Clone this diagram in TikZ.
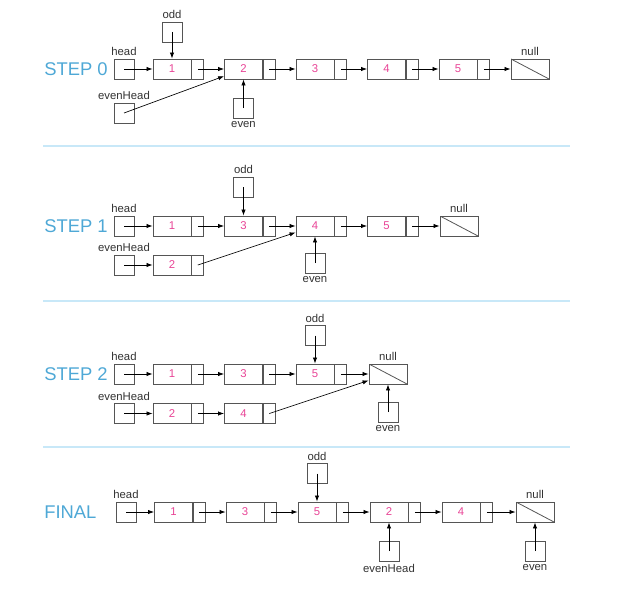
\documentclass[tikz,border=0pt]{standalone}
\usepackage{fontspec}
\setmainfont{Liberation Sans}
\usetikzlibrary{positioning,arrows.meta}
\definecolor{boxgray}{RGB}{85,85,85}
\definecolor{numpink}{RGB}{232,68,150}
\definecolor{stepblue}{RGB}{78,168,214}
\definecolor{sepblue}{RGB}{200,232,248}
\definecolor{lblgray}{RGB}{50,50,50}

% one list cell: value part plus next part
\newcommand{\listcell}[3]{%
  \node[cellbox] (#1) at (#2) {#3};
  \node[nextbox, right=0pt of #1] (#1p) {};}

\begin{document}
\begin{tikzpicture}[x=0.75pt, y=-0.75pt, font=\fontsize{8.5}{10}\selectfont,
  cellbox/.style={draw=boxgray, line width=0.6pt, minimum width=28.5pt, minimum height=15pt, inner sep=0pt, text=numpink},
  nextbox/.style={draw=boxgray, line width=0.6pt, minimum width=9pt, minimum height=15pt, inner sep=0pt},
  ptrbox/.style={draw=boxgray, line width=0.6pt, minimum size=15pt, inner sep=0pt},
  nullbox/.style={draw=boxgray, line width=0.6pt, minimum width=28.5pt, minimum height=15pt, inner sep=0pt,
    path picture={\draw[boxgray, line width=0.6pt] (path picture bounding box.north west) -- (path picture bounding box.south east);}},
  ptrname/.style={text=lblgray, inner sep=2pt},
  link/.style={-{Latex[length=4.5pt, width=3.2pt]}, line width=0.5pt},
  steplabel/.style={text=stepblue, font=\fontsize{13.8}{16}\selectfont, anchor=west, inner sep=0pt},
  sepline/.style={draw=sepblue, line width=1.5pt}]
\useasboundingbox (0,0) rectangle (624,592);

% STEP 0
\node[steplabel] (t0) at (44,69) {STEP 0};
\node[ptrbox, label={[ptrname]above:head}] (h0) at (124,69) {};
\node[ptrbox, label={[ptrname]above:evenHead}] (eh0) at (124,113) {};
\listcell{a1}{172,69}{1}
\listcell{a2}{243.5,69}{2}
\listcell{a3}{315,69}{3}
\listcell{a4}{386.5,69}{4}
\listcell{a5}{458,69}{5}
\node[nullbox, label={[ptrname]above:null}] (a0) at (530,69) {};
\node[ptrbox, label={[ptrname]above:odd}] (o0) at (172,32) {};
\node[ptrbox, label={[ptrname]below:even}] (e0) at (243.5,108) {};
\draw[link] (h0.center) -- (a1);
\draw[link] (a1p.center) -- (a2);
\draw[link] (a2p.center) -- (a3);
\draw[link] (a3p.center) -- (a4);
\draw[link] (a4p.center) -- (a5);
\draw[link] (a5p.center) -- (a0);
\draw[link] (eh0.center) -- (a2);
\draw[link] (o0.center) -- (a1);
\draw[link] (e0.center) -- (a2);

\draw[sepline] (43,146) -- (570,146);

% STEP 1
\node[steplabel] (t1) at (44,226) {STEP 1};
\node[ptrbox, label={[ptrname]above:head}] (h1) at (124,226) {};
\node[ptrbox, label={[ptrname]above:evenHead}] (eh1) at (124,265) {};
\listcell{b1}{172,226}{1}
\listcell{b3}{243.5,226}{3}
\listcell{b4}{315,226}{4}
\listcell{b5}{386.5,226}{5}
\node[nullbox, label={[ptrname]above:null}] (b0) at (459,226) {};
\listcell{b2}{172,265}{2}
\node[ptrbox, label={[ptrname]above:odd}] (o1) at (243.5,187) {};
\node[ptrbox, label={[ptrname]below:even}] (e1) at (315,263) {};
\draw[link] (h1.center) -- (b1);
\draw[link] (b1p.center) -- (b3);
\draw[link] (b3p.center) -- (b4);
\draw[link] (b4p.center) -- (b5);
\draw[link] (b5p.center) -- (b0);
\draw[link] (eh1.center) -- (b2);
\draw[link] (b2p.center) -- (b4);
\draw[link] (o1.center) -- (b3);
\draw[link] (e1.center) -- (b4);

\draw[sepline] (43,301) -- (570,301);

% STEP 2
\node[steplabel] (t2) at (44,374) {STEP 2};
\node[ptrbox, label={[ptrname]above:head}] (h2) at (124,374) {};
\node[ptrbox, label={[ptrname]above:evenHead}] (eh2) at (124,413.5) {};
\listcell{c1}{172,374}{1}
\listcell{c3}{243.5,374}{3}
\listcell{c5}{315,374}{5}
\node[nullbox, label={[ptrname]above:null}] (c0) at (388,374) {};
\listcell{c2}{172,413.5}{2}
\listcell{c4}{243.5,413.5}{4}
\node[ptrbox, label={[ptrname]above:odd}] (o2) at (315,335.5) {};
\node[ptrbox, label={[ptrname]below:even}] (e2) at (388,412) {};
\draw[link] (h2.center) -- (c1);
\draw[link] (c1p.center) -- (c3);
\draw[link] (c3p.center) -- (c5);
\draw[link] (c5p.center) -- (c0);
\draw[link] (eh2.center) -- (c2);
\draw[link] (c2p.center) -- (c4);
\draw[link] (c4p.center) -- (c0);
\draw[link] (o2.center) -- (c5);
\draw[link] (e2.center) -- (c0);

\draw[sepline] (43,447) -- (570,447);

% FINAL
\node[steplabel] (t3) at (44,512) {FINAL};
\node[ptrbox, label={[ptrname]above:head}] (h3) at (126,512) {};
\listcell{d1}{173.5,512}{1}
\listcell{d3}{245,512}{3}
\listcell{d5}{317,512}{5}
\listcell{d2}{389,512}{2}
\listcell{d4}{461,512}{4}
\node[nullbox, label={[ptrname]above:null}] (d0) at (535,512) {};
\node[ptrbox, label={[ptrname]above:odd}] (o3) at (317,473.5) {};
\node[ptrbox, label={[ptrname]below:evenHead}] (eh3) at (389,551) {};
\node[ptrbox, label={[ptrname]below:even}] (e3) at (535,551) {};
\draw[link] (h3.center) -- (d1);
\draw[link] (d1p.center) -- (d3);
\draw[link] (d3p.center) -- (d5);
\draw[link] (d5p.center) -- (d2);
\draw[link] (d2p.center) -- (d4);
\draw[link] (d4p.center) -- (d0);
\draw[link] (o3.center) -- (d5);
\draw[link] (eh3.center) -- (d2);
\draw[link] (e3.center) -- (d0);
\end{tikzpicture}
\end{document}
